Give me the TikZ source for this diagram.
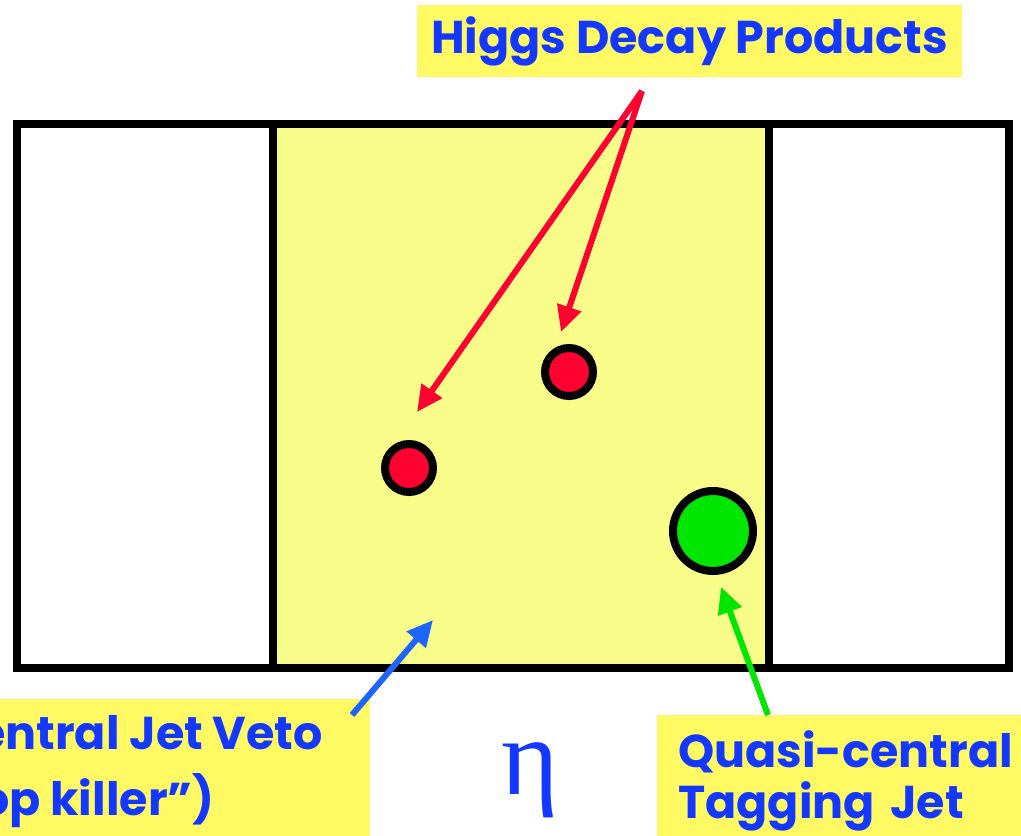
\documentclass[tikz,border=0pt]{standalone}
\usepackage{fontspec}
\setmainfont{Poppins}
\newfontfamily\greekfont{Liberation Serif}
\usetikzlibrary{arrows.meta}
\definecolor{labelyellow}{HTML}{FFFA64}
\definecolor{panelyellow}{HTML}{F8FC88}
\definecolor{textblue}{HTML}{1438FF}
\definecolor{higgsred}{HTML}{FF0030}
\definecolor{jetgreen}{HTML}{00E600}
\definecolor{vetoblue}{HTML}{1E64FF}

\begin{document}
\begin{tikzpicture}[x=1pt, y=-1pt,
    frame/.style={draw=black, line width=8pt},
    callout/.style={rectangle, fill=labelyellow, text=textblue, font=\fontsize{46}{51}\selectfont\bfseries},
    jet/.style={circle, draw=black, line width=8pt, inner sep=0pt},
    pointer/.style={-{Triangle[length=26pt, width=24pt]}, line width=6pt}]

    \useasboundingbox (0,0) rectangle (1021,836);

    % eta bins
    \fill[panelyellow] (273,124) rectangle (769,668);
    \draw[frame] (17,124) rectangle (1009,668);
    \draw[frame] (273,124) -- (273,668);
    \draw[frame] (769,124) -- (769,668);

    \node (higgsA) [jet, fill=higgsred, minimum size=48pt] at (409,468) {};
    \node (higgsB) [jet, fill=higgsred, minimum size=48pt] at (569,372) {};
    \node (tagjet) [jet, fill=jetgreen, minimum size=80pt] at (713,531) {};

    \node (higgs) [callout, minimum width=545pt, minimum height=72pt] at (689.5,41) {Higgs Decay Products};
    \node (veto) [callout, align=left, anchor=north east, inner xsep=47pt, inner ysep=16pt] at (370,699)
        {Central Jet Veto\\[15pt]\hspace*{-36pt}(“Top killer”)};
    \node (quasi) [callout, align=left, text width=340pt, anchor=north west, inner xsep=21pt, inner ysep=15pt] at (657,715)
        {Quasi-central\\Tagging Jet};
    \node (eta) [text=textblue, anchor=base, font=\greekfont\fontsize{110}{110}\selectfont] at (530,794) {η};

    \coordinate (fork) at (642,91);
    \coordinate (vetotip) at (433,620);

    \draw[pointer, higgsred] (fork) -- ([shift={(8,-56)}]higgsA.center);
    \draw[pointer, higgsred] (fork) -- ([shift={(-8,-40)}]higgsB.center);
    \draw[pointer, vetoblue] ([shift={(-18,16)}]veto.north east) -- (vetotip);
    \draw[pointer, jetgreen] ([shift={(111,0)}]quasi.north west) -- ([shift={(8,12)}]tagjet.south);
\end{tikzpicture}
\end{document}
